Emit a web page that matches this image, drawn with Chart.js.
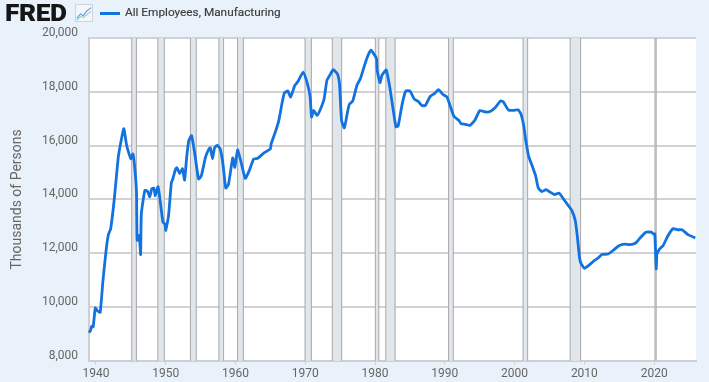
<!DOCTYPE html>
<html>
<head>
<meta charset="utf-8">
<title>All Employees, Manufacturing</title>
<script src="https://cdn.jsdelivr.net/npm/chart.js@4"></script>
<style>
    html, body { margin: 0; padding: 0; background: #e9f1fa; overflow: hidden; }
    .wrap { position: relative; width: 709px; height: 382px; font-family: Roboto, sans-serif; }
    .logo { position: absolute; left: 5px; top: 0; font: 900 23px/28px Roboto, sans-serif; color: #161616; letter-spacing: -0.3px; transform: scaleX(1.14); transform-origin: left center; }
    .icon { position: absolute; left: 75px; top: 4px; }
    .key { position: absolute; left: 99.5px; top: 12px; width: 20px; height: 3px; background: #1272e0; }
    .name { position: absolute; left: 125px; top: 4px; font: 400 11.8px/16px Roboto, sans-serif; color: #3c3c3c; -webkit-text-stroke: 0.15px #3c3c3c; }
    canvas { position: absolute; left: 0; top: 0; }
</style>
</head>
<body>
<div class="wrap">
    <canvas id="chart" width="709" height="382"></canvas>
    <div class="logo">FRED</div>
    <svg class="icon" width="18" height="18" viewBox="0 0 20 20">
        <rect x="0.5" y="0.5" width="19" height="19" fill="#f4f7fa" stroke="#c9d2da"/>
        <polyline points="2,16 6,11 9,13 13,8 18,4" fill="none" stroke="#5b9be0" stroke-width="1.2"/>
        <polyline points="2,18 6,14 9,15 13,12 18,8" fill="none" stroke="#8fd0c0" stroke-width="1.2"/>
    </svg>
    <div class="key"></div>
    <div class="name">All Employees, Manufacturing</div>
</div>
<script>
const years = [
    1939.0, 1939.2, 1939.4, 1939.6, 1939.9, 1940.2, 1940.6, 1941.0, 1941.5, 1941.8, 1942.1, 1942.6, 1943.2, 1943.7,
    1944.0, 1944.4, 1945.0, 1945.3, 1945.5, 1945.8, 1945.9, 1946.2, 1946.4, 1946.5, 1947.0, 1947.4, 1947.7, 1948.0,
    1948.3, 1948.5, 1948.9, 1949.2, 1949.6, 1949.9, 1950.0, 1950.4, 1950.8, 1951.0, 1951.4, 1951.6, 1952.0, 1952.4,
    1952.7, 1953.0, 1953.3, 1953.7, 1954.2, 1954.7, 1955.1, 1955.7, 1956.2, 1956.4, 1956.7, 1957.0, 1957.4, 1957.8,
    1958.2, 1958.6, 1959.0, 1959.6, 1959.9, 1960.3, 1960.8, 1961.4, 1962.0, 1962.6, 1963.2, 1964.0, 1964.6, 1965.0,
    1965.1, 1965.7, 1966.2, 1966.7, 1967.0, 1967.5, 1967.9, 1968.5, 1968.9, 1969.7, 1970.3, 1970.7, 1970.9, 1971.2,
    1971.7, 1972.2, 1972.7, 1973.1, 1973.5, 1974.0, 1974.6, 1974.9, 1975.2, 1975.6, 1976.0, 1976.3, 1976.8, 1977.4,
    1977.9, 1978.5, 1979.0, 1979.4, 1980.2, 1980.3, 1980.7, 1981.0, 1981.6, 1982.1, 1982.6, 1983.0, 1983.3, 1983.9,
    1984.4, 1985.0, 1985.6, 1986.2, 1986.7, 1987.2, 1987.9, 1988.5, 1989.1, 1989.7, 1990.3, 1990.9, 1991.3, 1992.0,
    1992.3, 1992.9, 1993.6, 1994.3, 1995.0, 1995.8, 1996.5, 1997.2, 1998.0, 1998.4, 1999.1, 1999.8, 2000.5, 2000.9,
    2001.3, 2001.6, 2002.0, 2002.5, 2003.0, 2003.4, 2003.9, 2004.5, 2005.1, 2005.7, 2006.4, 2007.0, 2007.7, 2008.2,
    2008.7, 2009.0, 2009.3, 2009.5, 2010.0, 2010.6, 2011.3, 2012.0, 2012.5, 2013.4, 2014.1, 2014.9, 2015.7, 2016.5,
    2017.3, 2018.0, 2018.8, 2019.6, 2020.0, 2020.1, 2020.3, 2020.4, 2020.8, 2021.3, 2022.0, 2022.7, 2023.4, 2024.0,
    2024.9, 2025.9
];
const employees = [
    9050, 9117, 9290, 9265, 9962, 9860, 9800, 10979, 12220, 12710, 12900, 13950, 15570, 16310,
    16630, 16000, 15510, 15690, 15320, 14330, 12480, 12660, 11950, 13460, 14330, 14300, 14100, 14390,
    14420, 14140, 14470, 13950, 13150, 13080, 12850, 13390, 14620, 14750, 15120, 15180, 14960, 15140,
    14720, 15570, 16180, 16370, 15630, 14760, 14880, 15570, 15880, 15910, 15510, 15920, 16010, 15880,
    15320, 14420, 14570, 15540, 15190, 15840, 15380, 14780, 15090, 15500, 15530, 15710, 15810, 15880,
    16060, 16500, 16930, 17620, 17950, 18030, 17805, 18240, 18360, 18730, 18300, 17800, 17060, 17310,
    17120, 17370, 17740, 18430, 18610, 18820, 18670, 18300, 16940, 16660, 17180, 17530, 17660, 18240,
    18490, 18990, 19360, 19550, 19240, 18810, 18340, 18620, 18810, 18190, 17320, 16700, 16720, 17560,
    18030, 18030, 17740, 17640, 17490, 17490, 17830, 17930, 18080, 17910, 17810, 17370, 17090, 16940,
    16820, 16790, 16750, 16940, 17300, 17250, 17270, 17410, 17660, 17620, 17330, 17310, 17330, 17180,
    16750, 16200, 15620, 15260, 14890, 14420, 14290, 14360, 14270, 14180, 14230, 14020, 13770, 13590,
    13210, 12600, 11850, 11630, 11440, 11540, 11700, 11825, 11950, 11970, 12100, 12270, 12340, 12320,
    12370, 12570, 12780, 12780, 12700, 12720, 11420, 11970, 12160, 12290, 12660, 12910, 12870, 12870,
    12680, 12570
];

const recessionStart = [1945.12, 1948.87, 1953.54, 1957.62, 1960.29, 1969.96, 1973.87, 1980.04, 1981.54, 1990.54, 2001.21, 2007.96, 2020.12];
const recessionEnd = [1945.79, 1949.79, 1954.37, 1958.29, 1961.12, 1970.87, 1975.21, 1980.54, 1982.87, 1991.21, 2001.87, 2009.46, 2020.29];

const xTickValues = [1940, 1950, 1960, 1970, 1980, 1990, 2000, 2010, 2020];
const yTickValues = [8000, 10000, 12000, 14000, 16000, 18000, 20000];

const plotBackground = {
    id: 'plotBackground',
    beforeDraw(chart) {
        const { ctx, chartArea: a } = chart;
        ctx.fillStyle = '#ffffff';
        ctx.fillRect(a.left, a.top, a.right - a.left, a.bottom - a.top);
    },
};

const recessions = {
    id: 'recessions',
    beforeDatasetsDraw(chart) {
        const { ctx, chartArea: a, scales: { x } } = chart;
        ctx.save();
        recessionStart.forEach((start, i) => {
            const x0 = x.getPixelForValue(start),
                  x1 = x.getPixelForValue(recessionEnd[i]);
            ctx.fillStyle = '#e1e6eb';
            ctx.fillRect(x0, a.top, x1 - x0, a.bottom - a.top);
            ctx.fillStyle = '#a8a8a8';
            ctx.fillRect(x0 - 0.5, a.top, 1, a.bottom - a.top);
            ctx.fillRect(x1 - 0.5, a.top, 1, a.bottom - a.top);
        });
        ctx.restore();
    },
};

new Chart(document.getElementById('chart'), {
    type: 'line',
    data: {
        datasets: [{
            label: 'All Employees, Manufacturing',
            data: years.map((year, i) => ({ x: year, y: employees[i] })),
            borderColor: '#1272e0',
            borderWidth: 2.8,
            pointRadius: 0,
            tension: 0.15,
            clip: false,
        }],
    },
    options: {
        responsive: false,
        animation: false,
        layout: { padding: { top: 38, right: 13, left: 0, bottom: 0 } },
        plugins: {
            legend: { display: false },
            tooltip: { enabled: false },
        },
        scales: {
            x: {
                type: 'linear',
                min: 1939,
                max: 2026,
                afterBuildTicks: (scale) => { scale.ticks = xTickValues.map((value) => ({ value })); },
                afterFit: (scale) => { scale.height = 21; },
                border: { color: '#cfcfcf', width: 2 },
                grid: { drawOnChartArea: false, drawTicks: true, tickLength: 4, tickColor: '#cfcfcf' },
                ticks: {
                    color: '#666666',
                    padding: 2,
                    maxRotation: 0,
                    autoSkip: false,
                    font: { family: 'Roboto', size: 12 },
                    callback: (value) => String(value),
                },
            },
            y: {
                min: 8000,
                max: 20000,
                afterBuildTicks: (scale) => { scale.ticks = yTickValues.map((value) => ({ value })); },
                afterFit: (scale) => { scale.width = 89; },
                border: { color: '#cfcfcf', width: 2 },
                grid: { color: '#d2d2d2', lineWidth: 2, drawTicks: false },
                title: {
                    display: true,
                    text: 'Thousands of Persons',
                    color: '#666666',
                    padding: { top: 9, bottom: 0 },
                    font: { family: 'Roboto', size: 14 },
                },
                ticks: {
                    color: '#666666',
                    padding: 11,
                    font: { family: 'Roboto', size: 12, lineHeight: 0.85 },
                    // second empty line lifts the label above its grid line, as on FRED
                    callback: (value) => [value.toLocaleString('en-US'), ''],
                },
            },
        },
    },
    plugins: [plotBackground, recessions],
});
</script>
</body>
</html>
